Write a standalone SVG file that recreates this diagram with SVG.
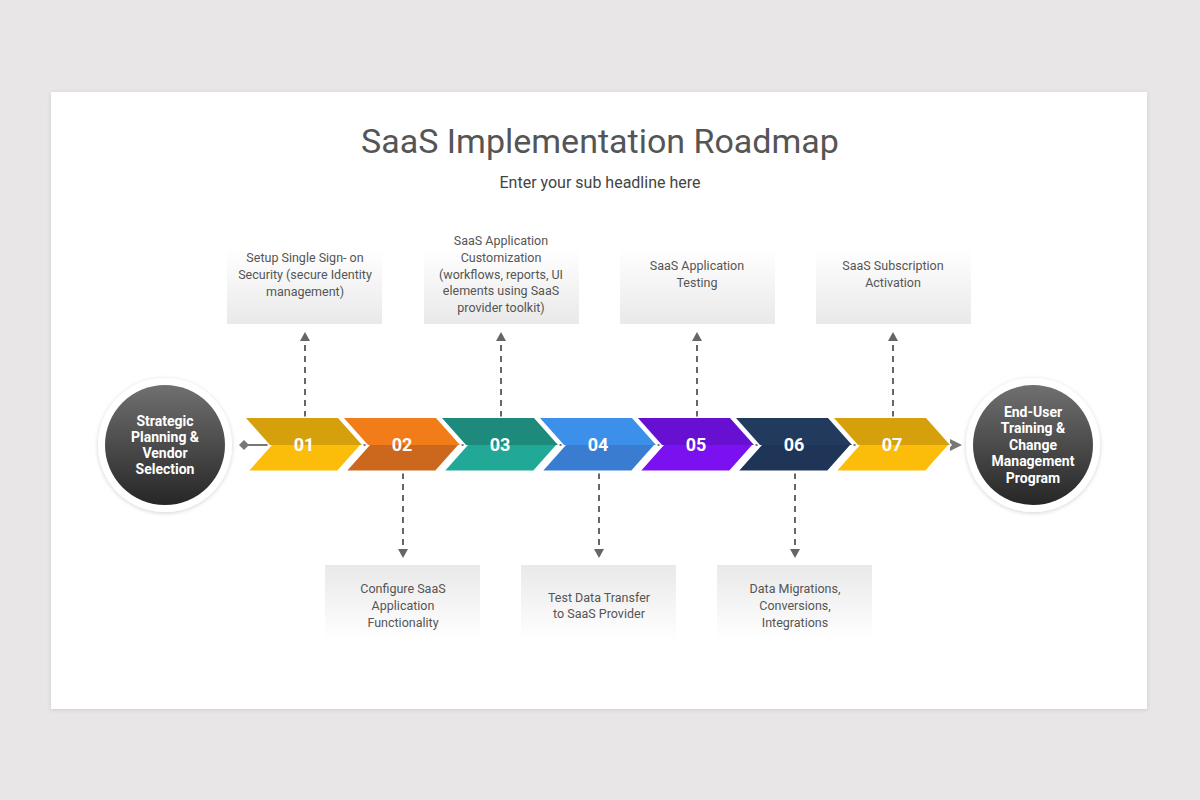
<svg xmlns="http://www.w3.org/2000/svg" width="1200" height="800" viewBox="0 0 1200 800">
  <defs>
    <linearGradient id="gTop" x1="0" y1="0" x2="0" y2="1">
      <stop offset="0" stop-color="#ffffff"/>
      <stop offset="1" stop-color="#e9e9e9"/>
    </linearGradient>
    <linearGradient id="gBot" x1="0" y1="0" x2="0" y2="1">
      <stop offset="0" stop-color="#e9e9e9"/>
      <stop offset="1" stop-color="#ffffff"/>
    </linearGradient>
    <linearGradient id="gCircle" x1="0" y1="0" x2="0" y2="1">
      <stop offset="0" stop-color="#707070"/>
      <stop offset="1" stop-color="#262626"/>
    </linearGradient>
    <filter id="shadow" x="-5%" y="-5%" width="110%" height="110%">
      <feDropShadow dx="0" dy="1" stdDeviation="2" flood-color="#000" flood-opacity="0.12"/>
    </filter>
    <filter id="cshadow" x="-20%" y="-20%" width="140%" height="140%">
      <feDropShadow dx="0" dy="1" stdDeviation="2" flood-color="#000" flood-opacity="0.18"/>
    </filter>
    <marker id="arrUp" viewBox="0 0 10 10" refX="5" refY="0" markerWidth="10" markerHeight="10" markerUnits="userSpaceOnUse" orient="auto">
      <path d="M0,0 L10,5 L0,10 Z" fill="#666"/>
    </marker>
  </defs>
  <style>
    .title { font-family: Roboto, "Liberation Sans", sans-serif; font-size: 34px; fill: #555; text-anchor: middle; }
    .sub { font-family: Roboto, "Liberation Sans", sans-serif; font-size: 16px; fill: #444; text-anchor: middle; }
    .box-text { font-family: Roboto, "Liberation Sans", sans-serif; font-size: 12.5px; fill: #555; text-anchor: middle; }
    .num { font-family: Roboto, "Liberation Sans", sans-serif; font-size: 18px; font-weight: bold; fill: #fff; text-anchor: middle; }
    .circ-text { font-family: Roboto, "Liberation Sans", sans-serif; font-size: 14px; font-weight: bold; fill: #fff; text-anchor: middle; }
    .chev { stroke: #fff; stroke-width: 3; stroke-linejoin: miter; }
    .dash { stroke: #666; stroke-width: 2; stroke-dasharray: 6 5; fill: none; }
    .arrow { fill: #666; }
  </style>

  <rect x="0" y="0" width="1200" height="800" fill="#e8e6e7"/>
  <rect x="51" y="92" width="1096" height="617" fill="#ffffff" filter="url(#shadow)"/>

  <text class="title" x="600" y="153">SaaS Implementation Roadmap</text>
  <text class="sub" x="600" y="188">Enter your sub headline here</text>

  <!-- main line behind chevrons -->
  <g id="connectors">
    <line x1="244" y1="445" x2="952" y2="445" stroke="#777" stroke-width="2"/>
    <path d="M239,445 L244,440 L249,445 L244,450 Z" fill="#777"/>
    <path d="M950,439 L962,445 L950,451 Z" fill="#777"/>

    <!-- up connectors -->
    <line class="dash" x1="305" y1="417" x2="305" y2="342"/>
    <path class="arrow" d="M305,332 L310,341 L300,341 Z"/>
    <line class="dash" x1="501" y1="417" x2="501" y2="342"/>
    <path class="arrow" d="M501,332 L506,341 L496,341 Z"/>
    <line class="dash" x1="697" y1="417" x2="697" y2="342"/>
    <path class="arrow" d="M697,332 L702,341 L692,341 Z"/>
    <line class="dash" x1="893" y1="417" x2="893" y2="342"/>
    <path class="arrow" d="M893,332 L898,341 L888,341 Z"/>
    <!-- down connectors -->
    <line class="dash" x1="403" y1="473" x2="403" y2="548"/>
    <path class="arrow" d="M403,558 L408,549 L398,549 Z"/>
    <line class="dash" x1="599" y1="473" x2="599" y2="548"/>
    <path class="arrow" d="M599,558 L604,549 L594,549 Z"/>
    <line class="dash" x1="795" y1="473" x2="795" y2="548"/>
    <path class="arrow" d="M795,558 L800,549 L790,549 Z"/>
  </g>

  <!-- chevrons -->
  <g id="step01">
    <path class="chev" d="M246,418 H338 L362,445 L338,472 H246 L270,445 Z" fill="#fcbd0a"/>
    <path d="M246,418 H338 L362,445 H270 Z" fill="#d6a00c"/>
    <text class="num" x="304" y="451">01</text>
  </g>
  <g id="step02">
    <path class="chev" d="M344,418 H436 L460,445 L436,472 H344 L368,445 Z" fill="#cb681d"/>
    <path d="M344,418 H436 L460,445 H368 Z" fill="#f27c19"/>
    <text class="num" x="402" y="451">02</text>
  </g>
  <g id="step03">
    <path class="chev" d="M442,418 H534 L558,445 L534,472 H442 L466,445 Z" fill="#22a897"/>
    <path d="M442,418 H534 L558,445 H466 Z" fill="#1e8a7b"/>
    <text class="num" x="500" y="451">03</text>
  </g>
  <g id="step04">
    <path class="chev" d="M540,418 H632 L656,445 L632,472 H540 L564,445 Z" fill="#3a7dd0"/>
    <path d="M540,418 H632 L656,445 H564 Z" fill="#3d90ea"/>
    <text class="num" x="598" y="451">04</text>
  </g>
  <g id="step05">
    <path class="chev" d="M638,418 H730 L754,445 L730,472 H638 L662,445 Z" fill="#7b10f0"/>
    <path d="M638,418 H730 L754,445 H662 Z" fill="#6710d2"/>
    <text class="num" x="696" y="451">05</text>
  </g>
  <g id="step06">
    <path class="chev" d="M736,418 H828 L852,445 L828,472 H736 L760,445 Z" fill="#1e3558"/>
    <path d="M736,418 H828 L852,445 H760 Z" fill="#223a5e"/>
    <text class="num" x="794" y="451">06</text>
  </g>
  <g id="step07">
    <path class="chev" d="M834,418 H926 L950,445 L926,472 H834 L858,445 Z" fill="#fcbd0a"/>
    <path d="M834,418 H926 L950,445 H858 Z" fill="#d6a00c"/>
    <text class="num" x="892" y="451">07</text>
  </g>

  <!-- circles -->
  <g id="start">
    <circle cx="165" cy="445" r="67" fill="#ffffff" filter="url(#cshadow)"/>
    <circle cx="165" cy="445" r="60" fill="url(#gCircle)"/>
    <text class="circ-text" x="165" y="426">Strategic</text>
    <text class="circ-text" x="165" y="442">Planning &amp;</text>
    <text class="circ-text" x="165" y="458">Vendor</text>
    <text class="circ-text" x="165" y="474">Selection</text>
  </g>
  <g id="end">
    <circle cx="1033" cy="445" r="67" fill="#ffffff" filter="url(#cshadow)"/>
    <circle cx="1033" cy="445" r="60" fill="url(#gCircle)"/>
    <text class="circ-text" x="1033" y="417">End-User</text>
    <text class="circ-text" x="1033" y="433">Training &amp;</text>
    <text class="circ-text" x="1033" y="450">Change</text>
    <text class="circ-text" x="1033" y="466">Management</text>
    <text class="circ-text" x="1033" y="483">Program</text>
  </g>

  <!-- top boxes -->
  <g id="box01">
    <rect x="227" y="249" width="155" height="75" fill="url(#gTop)"/>
    <text class="box-text" x="305" y="262">Setup Single Sign- on</text>
    <text class="box-text" x="305" y="279">Security (secure Identity</text>
    <text class="box-text" x="305" y="296">management)</text>
  </g>
  <g id="box03">
    <rect x="424" y="249" width="155" height="75" fill="url(#gTop)"/>
    <text class="box-text" x="501" y="245">SaaS Application</text>
    <text class="box-text" x="501" y="262">Customization</text>
    <text class="box-text" x="501" y="279">(workflows, reports, UI</text>
    <text class="box-text" x="501" y="295">elements  using SaaS</text>
    <text class="box-text" x="501" y="312">provider toolkit)</text>
  </g>
  <g id="box05">
    <rect x="620" y="249" width="155" height="75" fill="url(#gTop)"/>
    <text class="box-text" x="697" y="270">SaaS Application</text>
    <text class="box-text" x="697" y="287">Testing</text>
  </g>
  <g id="box07">
    <rect x="816" y="249" width="155" height="75" fill="url(#gTop)"/>
    <text class="box-text" x="893" y="270">SaaS Subscription</text>
    <text class="box-text" x="893" y="287">Activation</text>
  </g>

  <!-- bottom boxes -->
  <g id="box02">
    <rect x="325" y="565" width="155" height="75" fill="url(#gBot)"/>
    <text class="box-text" x="403" y="593">Configure SaaS</text>
    <text class="box-text" x="403" y="610">Application</text>
    <text class="box-text" x="403" y="627">Functionality</text>
  </g>
  <g id="box04">
    <rect x="521" y="565" width="155" height="75" fill="url(#gBot)"/>
    <text class="box-text" x="599" y="602">Test Data Transfer</text>
    <text class="box-text" x="599" y="618">to SaaS Provider</text>
  </g>
  <g id="box06">
    <rect x="717" y="565" width="155" height="75" fill="url(#gBot)"/>
    <text class="box-text" x="795" y="593">Data Migrations,</text>
    <text class="box-text" x="795" y="610">Conversions,</text>
    <text class="box-text" x="795" y="627">Integrations</text>
  </g>
</svg>
